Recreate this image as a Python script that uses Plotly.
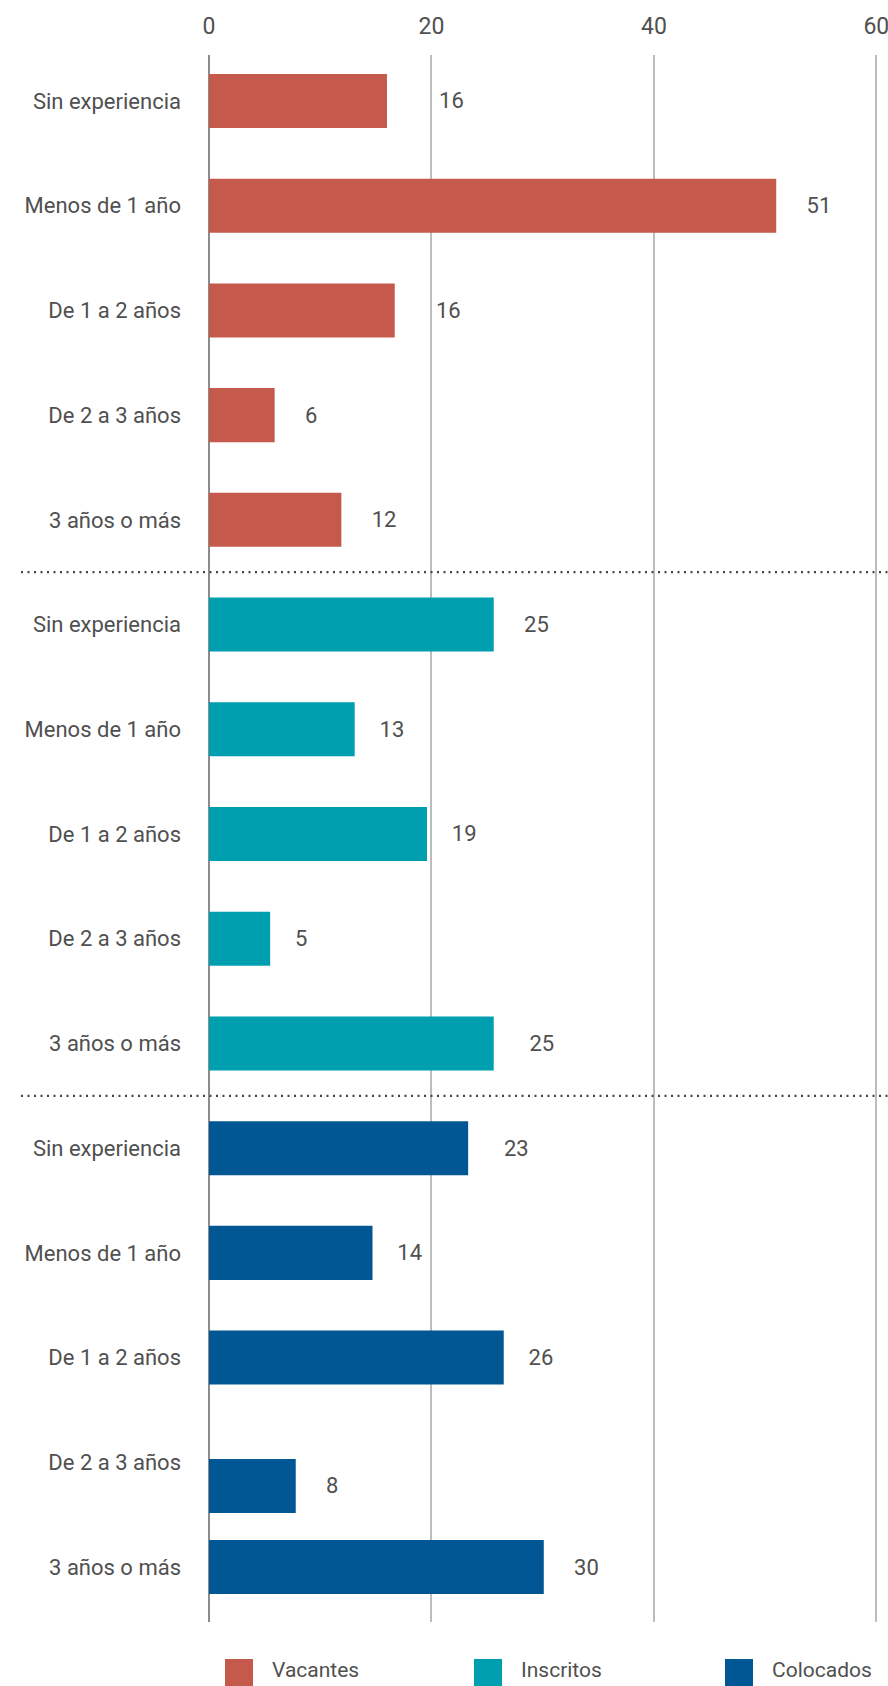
import plotly.graph_objects as go

# ---- data ----
categories = ["Sin experiencia", "Menos de 1 año", "De 1 a 2 años", "De 2 a 3 años", "3 años o más"]
series_names = ["Vacantes", "Inscritos", "Colocados"]
vacantes = [16.0, 51.0, 16.7, 5.9, 11.9]
inscritos = [25.6, 13.1, 19.6, 5.5, 25.6]
colocados = [23.3, 14.7, 26.5, 7.8, 30.1]
vacantes_lbl = ["16", "51", "16", "6", "12"]
inscritos_lbl = ["25", "13", "19", "5", "25"]
colocados_lbl = ["23", "14", "26", "8", "30"]
x_ticks = [0, 20, 40, 60]

# ---- styles ----
colors = ["#C4594C", "#009FAF", "#005794"]
FONT = "Roboto, 'Noto Sans', sans-serif"
TXT = "#505050"
W, H = 888, 1686
ML, MR, MT, MB = 209, 10, 55, 64
X_RANGE = [0, 60.15]
BAR_W = 0.516
# per-bar offsets (in row units) - the reference shows one displaced bar
shifts = [[0, 0, 0, 0, 0], [0, 0, 0, 0, 0], [0, 0, 0, 0.226, 0]]
# label padding (number of non-breaking spaces before each value label)
label_pad = [[9, 5, 7, 5, 5], [5, 4, 4, 4, 6], [6, 4, 4, 5, 5]]

values = [vacantes, inscritos, colocados]
labels = [vacantes_lbl, inscritos_lbl, colocados_lbl]
n = len(categories)

fig = go.Figure()
for g, name in enumerate(series_names):
    ys = [g * n + i for i in range(n)]
    fig.add_trace(go.Bar(
        x=values[g], y=ys, orientation="h", name=name,
        width=BAR_W, offset=[-BAR_W / 2 + s for s in shifts[g]],
        marker=dict(color=colors[g], line=dict(width=0)),
        text=["\u00a0" * p + t for p, t in zip(label_pad[g], labels[g])],
        textposition="outside",
        textfont=dict(family=FONT, size=22, color=TXT),
        cliponaxis=False, showlegend=False, hoverinfo="skip",
    ))

total = n * len(series_names)
plot_h = H - MT - MB
plot_w = W - ML - MR

# separators
for g in range(1, len(series_names)):
    fig.add_shape(type="line", xref="paper", yref="y",
                  x0=(21 - ML) / plot_w, x1=(W - ML) / plot_w,
                  y0=g * n - 0.5, y1=g * n - 0.5,
                  line=dict(color="#444444", width=2.2, dash="2px,4.5px"))

# manual legend
def px_x(px):
    return (px - ML) / plot_w

def px_y(py):
    return (H - MB - py) / plot_h

leg_x = [225, 474, 725]
for k, name in enumerate(series_names):
    fig.add_shape(type="rect", xref="paper", yref="paper",
                  x0=px_x(leg_x[k]), x1=px_x(leg_x[k] + 28),
                  y0=px_y(1659), y1=px_y(1700),
                  fillcolor=colors[k], line=dict(width=0))
    fig.add_annotation(xref="paper", yref="paper", x=px_x(leg_x[k] + 45), y=px_y(1670),
                       text=name, showarrow=False, xanchor="left", yanchor="middle",
                       font=dict(family=FONT, size=21, color=TXT))

fig.update_layout(
    width=W, height=H,
    margin=dict(l=ML, r=MR, t=MT, b=MB, autoexpand=False),
    plot_bgcolor="white", paper_bgcolor="white",
    barmode="overlay",
    xaxis=dict(range=X_RANGE, side="top", tickvals=x_ticks, automargin=False,
               showgrid=True, gridcolor="#BDBDBD", gridwidth=1.5,
               zeroline=True, zerolinecolor="#8C8C8C", zerolinewidth=2,
               ticks="", ticklabelstandoff=15, ticklabeloverflow="allow",
               tickfont=dict(family=FONT, size=23, color=TXT)),
    yaxis=dict(range=[14.525, -0.439], tickvals=list(range(total)), automargin=False,
               ticktext=categories * len(series_names),
               showgrid=False, zeroline=False, ticks="", ticklabelstandoff=27,
               tickfont=dict(family=FONT, size=22, color=TXT)),
)

fig.write_html("out.html", config={"displayModeBar": False},
               post_script="document.body.style.margin='0';document.body.style.overflow='hidden';")
